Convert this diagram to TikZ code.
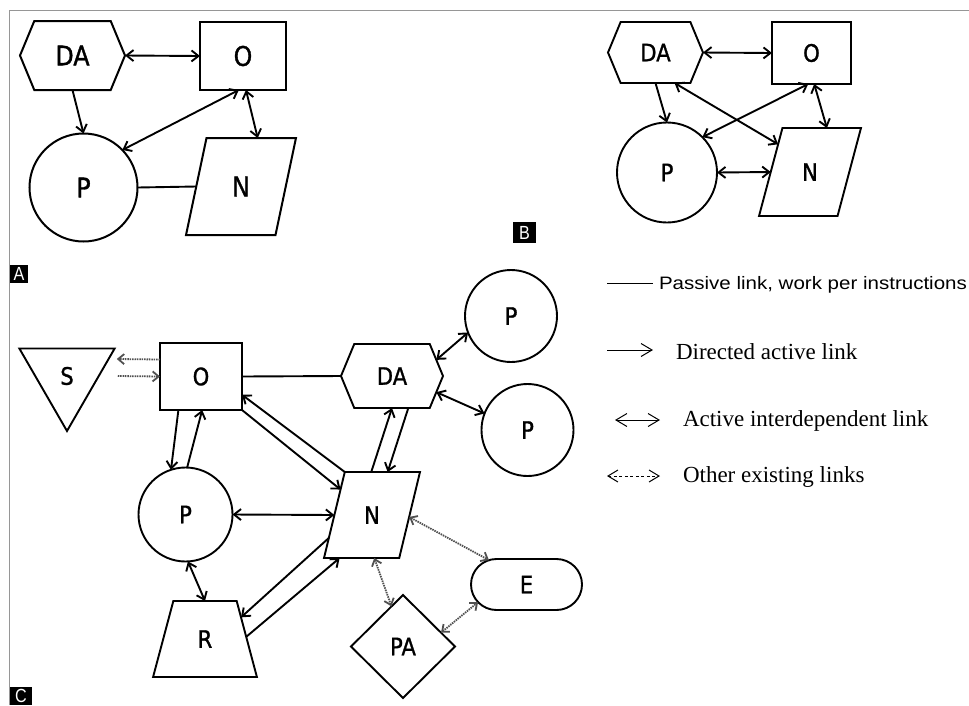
\documentclass[tikz,border=0pt]{standalone}
\usepackage{fontspec}
\setmainfont{Liberation Serif}
\newfontfamily\shapefont[FakeStretch=0.88, FakeBold=1.2]{DejaVu Sans}
\newfontfamily\legendsans[FakeStretch=1.14]{Liberation Sans}
\newfontfamily\tagfont[FakeStretch=0.85]{Liberation Sans}
\usepackage{tikz}
\usetikzlibrary{positioning,arrows.meta,shapes.geometric,shapes.symbols,shapes.misc}
\definecolor{framegray}{RGB}{150,150,150}
\definecolor{dotgray}{RGB}{80,80,80}

\begin{document}
\begin{tikzpicture}[x=1pt, y=-1pt,
    every node/.style={inner sep=0pt, outer sep=0pt},
    shp/.style={draw, line width=1.9pt, font=\shapefont\fontsize{24}{26}\selectfont},
    big/.style={line width=2pt, font=\shapefont\fontsize{27}{29}\selectfont},
    hexbox/.style={shp, signal, signal to=west and east, signal pointer angle=135},
    rectbox/.style={shp, rectangle},
    circbox/.style={shp, circle},
    parabox/.style={shp, trapezium, trapezium stretches=true},
    tagbox/.style={fill=black, text=white, anchor=north west, text height=13.5pt, text depth=0pt,
        font=\tagfont\fontsize{19}{20}\selectfont},
    arr/.style={line width=1.9pt, -{Straight Barb[length=7pt,width=11pt]}},
    biarr/.style={line width=1.9pt, {Straight Barb[length=7pt,width=11pt]}-{Straight Barb[length=7pt,width=11pt]}},
    link/.style={line width=1.9pt},
    dotarr/.style={dotgray, line width=1.8pt, dash pattern=on 1.5pt off 0.9pt,
        -{Straight Barb[length=6pt,width=10pt]}},
    dotbi/.style={dotarr, {Straight Barb[length=6pt,width=10pt]}-{Straight Barb[length=6pt,width=10pt]}},
    legline/.style={line width=1pt},
    legtip/.style={line width=1pt, -{Straight Barb[length=11pt,width=13pt]}},
    legbi/.style={line width=1pt, {Straight Barb[length=11pt,width=13pt]}-{Straight Barb[length=11pt,width=13pt]}},
    legdot/.style={line width=1pt, dash pattern=on 3pt off 2.5pt,
        {Straight Barb[length=10pt,width=12pt]}-{Straight Barb[length=10pt,width=12pt]}},
    legtext/.style={anchor=base west, font=\fontsize{23}{25}\selectfont}
]
\useasboundingbox (0,0) rectangle (969,705);

% frame
\draw[framegray, line width=1pt] (9,705) -- (9,10.5) -- (969,10.5);

% panel A
\node[hexbox, big, minimum width=105pt, minimum height=69pt] (aDA) at (72.5,55.5) {DA};
\node[rectbox, big, minimum width=86pt, minimum height=68pt] (aO) at (243,56) {O};
\node[circbox, big, minimum size=108pt] (aP) at (83.5,187.5) {P};
\node[parabox, big, trapezium left angle=75, trapezium right angle=105,
      minimum width=110pt, minimum height=97pt] (aN) at (241,186.5) {N};
\node[tagbox, minimum width=18pt, minimum height=18pt] (tagA) at (10,265) {A};

\draw[biarr] (aDA.east) -- (aO.west);
\draw[arr] (aDA.south) -- (aP.north);
\draw[biarr] (aO.-97) -- (aP.44);
\draw[biarr] (aO.-85) -- (aN.71);
\draw[link] (aP.east) -- (aN.west);

% panel B
\node[hexbox, minimum width=95pt, minimum height=61pt] (bDA) at (655.5,52.5) {DA};
\node[rectbox, minimum width=79pt, minimum height=62pt] (bO) at (811.5,53) {O};
\node[circbox, minimum size=100pt] (bP) at (667,172.5) {P};
\node[parabox, trapezium left angle=69, trapezium right angle=111,
      minimum width=102pt, minimum height=88pt] (bN) at (810,172) {N};
\node[tagbox, minimum width=23pt, minimum height=21pt] (tagB) at (513,222) {B};

\draw[biarr] (bDA.east) -- (bO.west);
\draw[arr] (bDA.south) -- (bP.north);
\draw[biarr] (bDA.-58) -- (bN.139);
\draw[biarr] (bO.-96) -- (bP.45);
\draw[biarr] (bO.-85) -- (bN.69);
\draw[biarr] (bP.east) -- (bN.west);

% panel C
\node[shp, regular polygon, regular polygon sides=3, shape border rotate=180,
      minimum size=110pt] (cS) at (67,376) {S};
\node[rectbox, minimum width=82pt, minimum height=67pt] (cO) at (201,376.5) {O};
\node[hexbox, minimum width=102pt, minimum height=64pt] (cDA) at (392,376) {DA};
\node[circbox, minimum size=92pt] (cPu) at (511,316) {P};
\node[circbox, minimum size=92pt] (cPd) at (527.5,430) {P};
\node[circbox, minimum size=94pt] (cP) at (185.5,514.5) {P};
\node[parabox, trapezium left angle=71, trapezium right angle=109,
      minimum width=96pt, minimum height=86pt] (cN) at (372,515) {N};
\node[parabox, trapezium left angle=75, trapezium right angle=75,
      minimum width=104pt, minimum height=76pt] (cR) at (205,639) {R};
\node[shp, rounded rectangle, minimum width=111pt, minimum height=51pt] (cE) at (526.5,584.5) {E};
\node[shp, diamond, minimum width=104pt, minimum height=103pt] (cPA) at (403,646.5) {PA};
\node[tagbox, minimum width=22pt, minimum height=18pt] (tagC) at (10,687) {C};

\draw[dotarr] ([yshift=17pt]cO.west) -- ([shift={(18pt,17pt)}]cS.east);
\draw[dotarr] ([xshift=19pt]cS.east) -- (cO.west);
\draw[link] (cO.east) -- (cDA.west);
\draw[arr] (cN.top left corner) -- (cO.-24);
\draw[arr] (cO.south east) -- (cN.141);
\draw[biarr] (cP.east) -- (cN.west);
\draw[arr] (cO.-124) -- (cP.108);
\draw[arr] (cP.88) -- (cO.-88);
\draw[biarr] (cP.-87) -- (cR.north);
\draw[arr] (cN.-152) -- (cR.31);
\draw[arr] (cR.3) -- (cN.-127);
\draw[arr] (cN.91) -- (cDA.south);
\draw[arr] (cDA.-63) -- (cN.70);
\draw[biarr] (cDA.20) -- (cPu.201);
\draw[biarr] (cDA.-20) -- (cPd.159);
\draw[dotbi] (cN.-3) -- (cE.147);
\draw[dotbi] (cN.-87) -- (cPA.106);
\draw[dotbi] (cPA.20) -- (cE.200);

% legend
\coordinate (l1a) at (607,283.3);
\coordinate (l1b) at (653,283.3);
\coordinate (l2a) at (607,350);
\coordinate (l2b) at (653,350);
\coordinate (l3a) at (615,420);
\coordinate (l3b) at (660,420);
\coordinate (l4a) at (607,476);
\coordinate (l4b) at (660,476);
\draw[legline] (l1a) -- (l1b);
\draw[legtip] (l2a) -- (l2b);
\draw[legbi] (l3a) -- (l3b);
\draw[legdot] (l4a) -- (l4b);
\node[anchor=base west, font=\legendsans\fontsize{18}{20}\selectfont] (t1) at (659,289.3)
    {Passive link, work per instructions};
\node[legtext] (t2) at (676,359.3) {Directed active link};
\node[legtext] (t3) at (683,426.7) {Active interdependent link};
\node[legtext] (t4) at (683,482.7) {Other existing links};

\end{tikzpicture}
\end{document}
